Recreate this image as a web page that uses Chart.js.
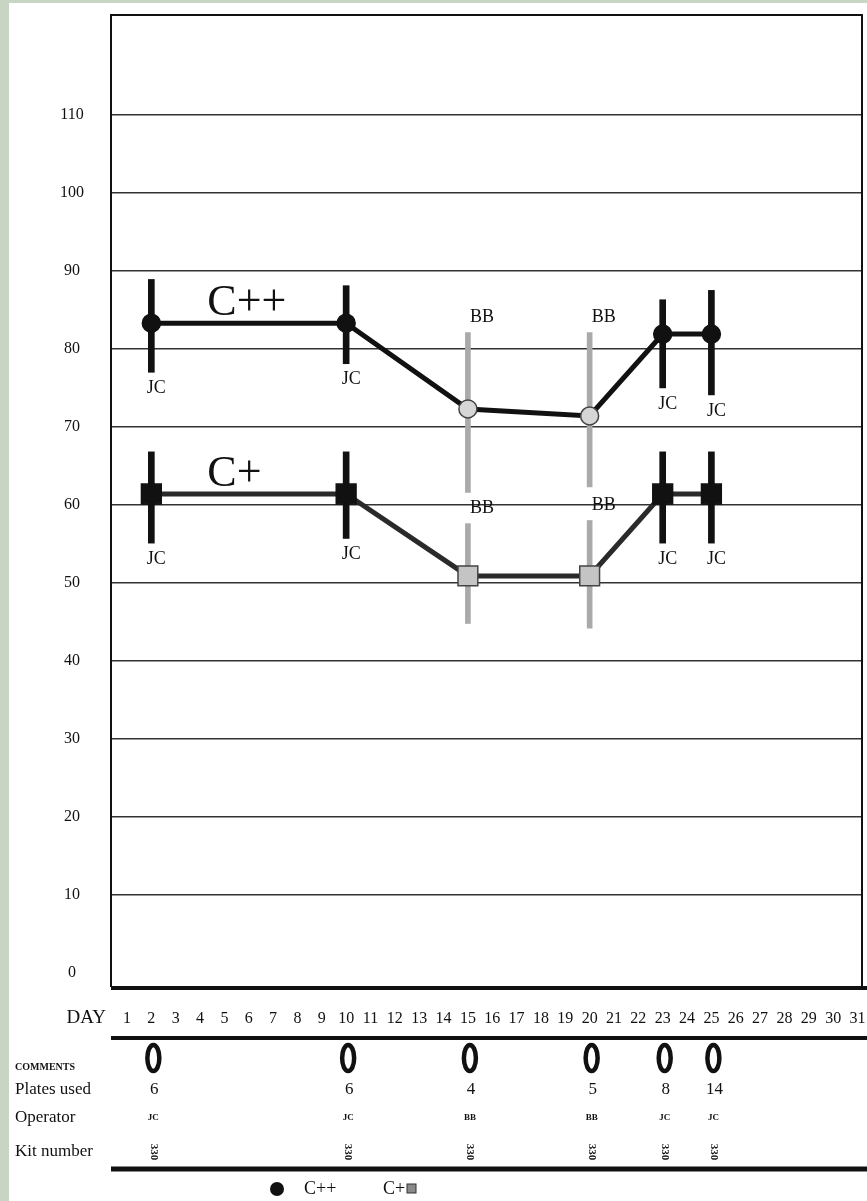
<!DOCTYPE html>
<html lang="en">
<head>
<meta charset="UTF-8">
<title>C++ / C+ control chart</title>
<script src="https://cdn.jsdelivr.net/npm/chart.js"></script>
<style>
  html, body { margin: 0; padding: 0; background: #c8d5c5; overflow: hidden; }
  #wrap { width: 867px; height: 1201px; }
</style>
</head>
<body>
<div id="wrap"><canvas id="chart" width="867" height="1201"></canvas></div>
<script>
// x axis tick labels (days of the month)
const dayLabels = [1, 2, 3, 4, 5, 6, 7, 8, 9, 10, 11, 12, 13, 14, 15, 16,
                   17, 18, 19, 20, 21, 22, 23, 24, 25, 26, 27, 28, 29, 30, 31];
const yTicks = [0, 10, 20, 30, 40, 50, 60, 70, 80, 90, 100, 110];

// days a test was run, and who ran it
const testDays  = [2, 10, 15, 20, 23, 25];
const operators = ['JC', 'JC', 'BB', 'BB', 'JC', 'JC'];

// C++ control
const cppMean = [83.3, 83.3, 72.3, 71.4, 81.9, 81.9];
const cppLow  = [77.0, 78.1, 61.6, 62.3, 75.0, 74.1];
const cppHigh = [88.9, 88.1, 82.1, 82.1, 86.3, 87.5];

// C+ control
const cpMean = [61.4, 61.4, 50.9, 50.9, 61.4, 61.4];
const cpLow  = [55.1, 55.7, 44.8, 44.2, 55.1, 55.1];
const cpHigh = [66.8, 66.8, 57.6, 58.0, 66.8, 66.8];

// log rows under the chart
const platesUsed = [6, 6, 4, 5, 8, 14];
const kitNumbers = ['330', '330', '330', '330', '330', '330'];

const serif = "'Liberation Serif', 'Times New Roman', serif";
const ink = '#111';
const grey = '#aaaaaa';

function points(vals) {
    return testDays.map((d, i) => ({ x: d, y: vals[i] }));
}
function ranges(lo, hi, who) {
    const out = [];
    testDays.forEach((d, i) => {
        if (operators[i] === who) out.push({ x: d, y: [lo[i], hi[i]] });
    });
    return out;
}
function rangeSet(label, lo, hi, who) {
    const jc = who === 'JC';
    return {
        type: 'bar',
        label: label,
        data: ranges(lo, hi, who),
        backgroundColor: jc ? ink : grey,
        borderWidth: 0,
        grouped: false,
        barThickness: jc ? 6 : 5,
        maxBarThickness: jc ? 6 : 5,
        barPercentage: 1,
        order: 3
    };
}
// the scales must not push the plot box inwards
function noPadding(s) {
    s.paddingTop = 0;
    s.paddingBottom = 0;
    s.paddingLeft = 0;
    s.paddingRight = 0;
}

const series = [
    { name: 'C++', mean: cppMean, low: cppLow, high: cppHigh },
    { name: 'C+',  mean: cpMean,  low: cpLow,  high: cpHigh }
];

const annotate = {
    id: 'annotate',
    beforeDraw(chart) {
        const { ctx, width, height } = chart;
        ctx.save();
        ctx.fillStyle = '#c8d5c5';
        ctx.fillRect(0, 0, width, height);
        ctx.fillStyle = '#ffffff';
        ctx.fillRect(9, 3, width - 9, height - 3);
        ctx.restore();
    },
    afterDraw(chart) {
        const { ctx, chartArea: a, scales } = chart;
        const xs = scales.x, ys = scales.y;
        ctx.save();

        // frame
        ctx.strokeStyle = ink;
        ctx.lineWidth = 2;
        ctx.beginPath();
        ctx.moveTo(a.left, a.bottom);
        ctx.lineTo(a.left, a.top);
        ctx.lineTo(a.right, a.top);
        ctx.lineTo(a.right, a.bottom);
        ctx.stroke();
        ctx.lineWidth = 4;
        ctx.beginPath();
        ctx.moveTo(a.left, a.bottom + 1);
        ctx.lineTo(chart.width, a.bottom + 1);
        ctx.stroke();

        // operator initials next to each range
        ctx.fillStyle = ink;
        ctx.font = `18px ${serif}`;
        ctx.textAlign = 'center';
        series.forEach(s => {
            testDays.forEach((d, i) => {
                const px = xs.getPixelForValue(d);
                if (operators[i] === 'JC') {
                    ctx.textBaseline = 'top';
                    ctx.fillText('JC', px + 5, ys.getPixelForValue(s.low[i]) + 7);
                } else {
                    ctx.textBaseline = 'bottom';
                    ctx.fillText('BB', px + 14, ys.getPixelForValue(s.high[i]) - 6);
                }
            });
            // series name above the first segment
            ctx.save();
            ctx.font = `44px ${serif}`;
            ctx.textAlign = 'left';
            ctx.textBaseline = 'alphabetic';
            ctx.fillText(s.name, xs.getPixelForValue(testDays[0]) + 56, ys.getPixelForValue(s.mean[0]) - 8);
            ctx.restore();
        });

        // DAY caption
        ctx.font = `19px ${serif}`;
        ctx.textAlign = 'right';
        ctx.textBaseline = 'middle';
        ctx.fillText('DAY', 106, a.bottom + 31);

        // thick rules of the log table
        const tableTop = a.bottom + 51;
        ctx.lineWidth = 4;
        ctx.beginPath();
        ctx.moveTo(a.left, tableTop);
        ctx.lineTo(chart.width, tableTop);
        ctx.stroke();
        ctx.lineWidth = 5;
        ctx.beginPath();
        ctx.moveTo(a.left, a.bottom + 182);
        ctx.lineTo(chart.width, a.bottom + 182);
        ctx.stroke();

        // row captions
        ctx.textAlign = 'left';
        ctx.font = `bold 10px ${serif}`;
        ctx.fillText('COMMENTS', 15, a.bottom + 80);
        ctx.font = `17px ${serif}`;
        ctx.fillText('Plates used', 15, a.bottom + 103);
        ctx.fillText('Operator', 15, a.bottom + 131);
        ctx.fillText('Kit number', 15, a.bottom + 165);

        // table cells
        testDays.forEach((d, i) => {
            const px = xs.getPixelForValue(d);
            ctx.lineWidth = 4.5;
            ctx.beginPath();
            ctx.ellipse(px + 2, a.bottom + 71, 6, 13, 0, 0, Math.PI * 2);
            ctx.stroke();

            ctx.textAlign = 'center';
            ctx.font = `17px ${serif}`;
            ctx.fillText(String(platesUsed[i]), px + 3, a.bottom + 103);
            ctx.font = `bold 9px ${serif}`;
            ctx.fillText(operators[i], px + 2, a.bottom + 131);

            ctx.save();
            ctx.translate(px + 2, a.bottom + 165);
            ctx.rotate(Math.PI / 2);
            ctx.font = `bold 11px ${serif}`;
            ctx.fillText(kitNumbers[i], 0, 0);
            ctx.restore();
        });

        // key
        const ky = a.bottom + 202;
        ctx.beginPath();
        ctx.arc(277, ky, 7, 0, Math.PI * 2);
        ctx.fill();
        ctx.font = `18px ${serif}`;
        ctx.textAlign = 'left';
        ctx.fillText('C++', 304, ky);
        ctx.fillText('C+', 383, ky);
        ctx.fillStyle = '#8a8a8a';
        ctx.fillRect(407, ky - 5, 9, 9);
        ctx.strokeStyle = '#333';
        ctx.lineWidth = 1;
        ctx.strokeRect(407, ky - 5, 9, 9);

        ctx.restore();
    }
};

new Chart(document.getElementById('chart'), {
    type: 'line',
    data: {
        datasets: [
            {
                label: 'C++',
                data: points(cppMean),
                borderColor: ink,
                borderWidth: 5,
                pointStyle: 'circle',
                pointRadius: 9,
                pointBackgroundColor: operators.map(o => o === 'JC' ? ink : '#d6d6d6'),
                pointBorderColor: operators.map(o => o === 'JC' ? ink : '#444'),
                pointBorderWidth: 1.5,
                order: 1
            },
            {
                label: 'C+',
                data: points(cpMean),
                borderColor: '#2a2a2a',
                borderWidth: 5,
                pointStyle: 'rect',
                pointRadius: 14,
                pointBackgroundColor: operators.map(o => o === 'JC' ? ink : '#c4c4c4'),
                pointBorderColor: operators.map(o => o === 'JC' ? ink : '#444'),
                pointBorderWidth: 1.5,
                order: 1
            },
            rangeSet('C++ range JC', cppLow, cppHigh, 'JC'),
            rangeSet('C++ range BB', cppLow, cppHigh, 'BB'),
            rangeSet('C+ range JC', cpLow, cpHigh, 'JC'),
            rangeSet('C+ range BB', cpLow, cpHigh, 'BB')
        ]
    },
    options: {
        responsive: false,
        animation: false,
        layout: { autoPadding: false, padding: { top: 15, right: 5, left: 0, bottom: 0 } },
        plugins: {
            legend: { display: false },
            tooltip: { enabled: false }
        },
        scales: {
            x: {
                type: 'linear',
                min: 0.343,
                max: 31.185,
                offset: false,
                grid: { display: false, drawTicks: false },
                border: { display: false },
                afterBuildTicks: s => { s.ticks = dayLabels.map(v => ({ value: v })); },
                afterFit: s => { s.height = 214; noPadding(s); },
                ticks: {
                    autoSkip: false,
                    maxRotation: 0,
                    padding: 22,
                    color: ink,
                    font: { family: serif, size: 16 }
                }
            },
            y: {
                type: 'linear',
                min: -1.8,
                max: 122.8,
                grid: {
                    color: c => (c.tick && c.tick.value === 0) ? 'rgba(0,0,0,0)' : '#333',
                    lineWidth: 1.4,
                    drawTicks: false
                },
                border: { display: false },
                afterBuildTicks: s => { s.ticks = yTicks.map(v => ({ value: v })); },
                afterFit: s => { s.width = 111; noPadding(s); },
                ticks: {
                    crossAlign: 'center',
                    padding: 27,
                    color: ink,
                    font: { family: serif, size: 16 }
                }
            }
        }
    },
    plugins: [annotate]
});
</script>
</body>
</html>
